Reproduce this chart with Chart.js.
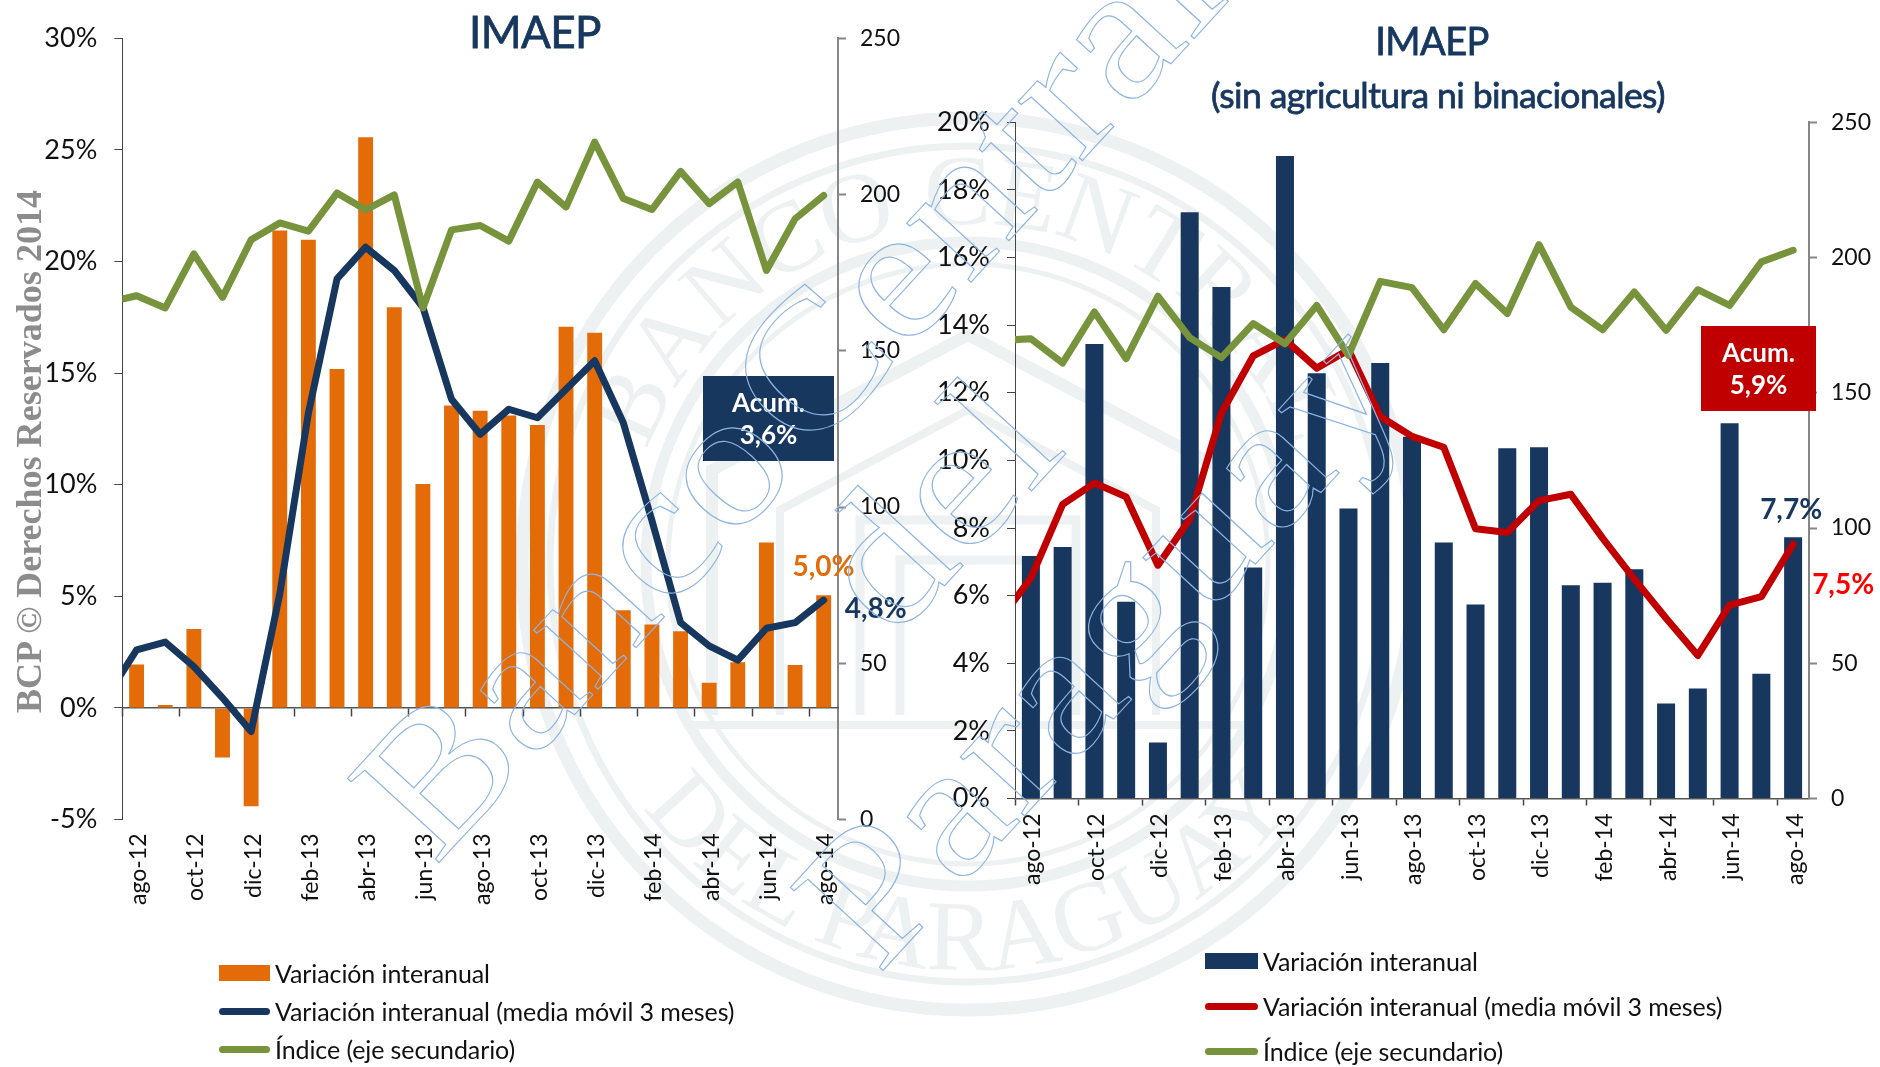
<!DOCTYPE html>
<html lang="es">
<head>
<meta charset="utf-8">
<title>IMAEP</title>
<script src="https://cdn.jsdelivr.net/npm/chart.js@4"></script>
<style>
html,body{margin:0;padding:0;background:#fff;width:1880px;height:1067px;overflow:hidden}
body{position:relative;font-family:Lato,sans-serif}
canvas{position:absolute;top:0}
svg{position:absolute;left:0;top:0}
.t{position:absolute;transform:translate(-50%,-50%);white-space:nowrap;color:#17375E;letter-spacing:-.6px;-webkit-text-stroke:.8px #17375E}
.lg{position:absolute;white-space:nowrap;transform:translateY(-50%);font-size:25px;color:#111;letter-spacing:-.1px}
.sw{position:absolute}
</style>
</head>
<body>
<svg width="1880" height="1067" style="z-index:0">
  <defs>
    <path id="arcTop" d="M 628 564 A 340 340 0 0 1 1308 564"/>
    <path id="arcBot" d="M 562 564 A 406 406 0 0 0 1374 564"/>
  </defs>
  <g fill="none" stroke="#EDF1F2">
    <circle cx="968" cy="564" r="446" stroke-width="13"/>
    <circle cx="968" cy="564" r="418" stroke-width="7"/>
    <circle cx="968" cy="564" r="322" stroke-width="11"/>
    <circle cx="968" cy="564" r="300" stroke-width="5"/>
    <path stroke-width="12" d="M 712 715 L 712 470 L 968 335 L 1224 470 L 1224 715"/>
    <path stroke-width="8" d="M 690 725 L 1246 725 M 780 715 L 780 510 L 968 410 L 1156 510 L 1156 715"/>
    <path stroke-width="9" d="M 860 715 L 860 520 L 1076 520 L 1076 715 M 900 715 L 900 560 L 1036 560 L 1036 715"/>
  </g>
  <g fill="#EDF1F2" font-family="Liberation Serif" font-size="100">
    <text><textPath href="#arcTop" startOffset="50%" text-anchor="middle">BANCO CENTRAL</textPath></text>
    <text><textPath href="#arcBot" startOffset="50%" text-anchor="middle">DEL PARAGUAY</textPath></text>
  </g>
</svg>

<canvas id="cLeft" width="925" height="1067" style="left:0;z-index:1"></canvas>
<canvas id="cRight" width="955" height="1067" style="left:925px;z-index:1"></canvas>

<div class="t" style="left:535px;top:31px;font-size:44px;z-index:2">IMAEP</div>
<div class="t" style="left:1432px;top:40px;font-size:38px;z-index:2">IMAEP</div>
<div class="t" style="left:1438px;top:94px;font-size:35.5px;z-index:2">(sin agricultura ni binacionales)</div>

<div id="legends" style="z-index:2"></div>

<svg width="1880" height="1067" style="z-index:3;pointer-events:none">
  <text x="0" y="0" transform="translate(41,713) rotate(-90)" font-family="Liberation Serif" font-weight="700" font-size="36" fill="#8c8c8c" textLength="523" lengthAdjust="spacingAndGlyphs">BCP © Derechos Reservados 2014</text>
  <g fill="none" stroke="#8DB4E2" stroke-width="1.1" font-family="Liberation Serif" font-size="190">
    <text x="0" y="0" transform="translate(435,867) rotate(-47.5) scale(1.12,1)" word-spacing="-40">Banco Central</text>
    <text x="0" y="0" transform="translate(893,642) rotate(-47.5) scale(1.12,1)">del</text>
    <text x="0" y="0" transform="translate(878,976) rotate(-47.5) scale(1.12,1)">Paraguay</text>
  </g>
</svg>

<script>
const FONT = 'Lato, sans-serif';
const NAVY = '#17375E', ORANGE = '#E36C09', GREEN = '#77933C', RED = '#C00000';

// Month labels; the first one lies just outside the axis range (its line segment is cut off at the axis).
const months = ['jul-12','ago-12','sep-12','oct-12','nov-12','dic-12','ene-13','feb-13','mar-13','abr-13','may-13','jun-13','jul-13','ago-13','sep-13','oct-13','nov-13','dic-13','ene-14','feb-14','mar-14','abr-14','may-14','jun-14','jul-14','ago-14'];

const leftBars = [null,1.94,0.13,3.54,-2.22,-4.41,21.39,20.97,15.18,25.57,17.95,10.03,13.55,13.31,13.1,12.68,17.08,16.81,4.38,3.74,3.43,1.13,2.05,7.41,1.92,5.05];
const leftAvg = [0.6,2.6,2.95,1.85,0.45,-1.06,5.1,13.2,19.22,20.64,19.6,17.95,13.83,12.26,13.38,13.0,14.28,15.55,12.78,8.4,3.82,2.78,2.14,3.57,3.82,4.83];
const leftIndex = [165.5,167.6,163.7,181.0,167.1,185.5,190.9,188.3,200.5,195.1,199.9,163.7,188.7,190.1,185.1,204.0,196.0,216.8,198.7,195.2,207.4,197.1,204.0,175.7,192.2,199.7];

const rightBars = [null,7.17,7.44,13.44,5.82,1.66,17.34,15.13,6.83,19.0,12.58,8.58,12.88,10.7,7.57,5.74,10.36,10.39,6.31,6.38,6.78,2.81,3.25,11.1,3.69,7.73];
const rightAvg = [5.26,6.52,8.7,9.33,8.92,6.9,8.26,11.4,13.09,13.57,12.73,13.27,11.3,10.71,10.39,7.98,7.87,8.81,9.0,7.7,6.49,5.33,4.23,5.72,5.97,7.52];
const rightIndex = [169.3,170,161,179.9,162.6,185.7,170.4,163,175.6,168.1,182.3,163.8,191.2,188.9,173.3,190.4,179.3,204.8,181.7,173.3,187.3,173.1,188.1,182.3,198.4,202.7];

const seriesNames = ['Variación interanual','Variación interanual (media móvil 3 meses)','Índice (eje secundario)'];

// Notes drawn on the canvas: the end-of-series values and the "Acum." boxes.
const notesPlugin = {
  id: 'notes',
  afterDraw(chart, args, o) {
    const c = chart.ctx;
    c.save();
    c.textAlign = 'center';
    c.textBaseline = 'middle';
    const xs = chart.scales.x, y = chart.scales.y;
    const lastX = xs.getPixelForValue(months.length - 1);
    for (const l of o.values) {
      c.font = '700 28px ' + FONT;
      c.fillStyle = l.color;
      c.fillText(l.text, lastX + l.dx, y.getPixelForValue(l.value) + l.dy);
    }
    const b = o.box;
    c.fillStyle = b.color;
    c.fillRect(b.x, b.y, b.w, b.h);
    c.fillStyle = '#fff';
    c.font = '700 26px ' + FONT;
    c.fillText('Acum.', b.x + b.w / 2, b.y + b.h * 0.32);
    c.fillText(b.text, b.x + b.w / 2, b.y + b.h * 0.7);
    c.restore();
  }
};

function makeChart(id, cfg) {
  const first = months[1], last = months[months.length - 1];
  const tickColorEven = col => ctx => (ctx.index % 2 === 0 ? col : 'rgba(0,0,0,0)');
  const scales = {
    x: {
      type: 'category', labels: months, min: first, max: last, offset: true,
      afterFit: s => { s.height = cfg.xHeight; },
      grid: {
        offset: true, drawOnChartArea: false,
        drawTicks: !cfg.zeroAxis, tickLength: 7, tickWidth: 1.5,
        tickColor: tickColorEven('#444')
      },
      border: cfg.zeroAxis ? { display: false } : { display: true, color: '#555', width: 1.5 },
      ticks: {
        autoSkip: false, minRotation: 90, maxRotation: 90,
        padding: cfg.zeroAxis ? 14 : 8, labelOffset: 2,
        color: '#111', font: { family: FONT, size: 23 },
        callback: function (v, i) { return i % 2 === 0 ? this.getLabelForValue(v) : ''; }
      }
    },
    y: {
      type: 'linear', position: 'left', min: cfg.yMin, max: cfg.yMax,
      afterFit: s => { s.width = cfg.left; },
      grid: { drawOnChartArea: false, tickLength: 8, tickColor: '#444' },
      border: { color: '#444', width: 1 },
      ticks: { stepSize: cfg.yStep, padding: 17, color: '#111', font: { family: FONT, size: 27 }, callback: v => v + '%' }
    },
    y1: {
      type: 'linear', position: 'right', min: 0, max: 250,
      afterFit: s => { s.width = cfg.canvasW - cfg.right; },
      grid: { drawOnChartArea: false, tickLength: 8, tickColor: '#868686', tickWidth: 2 },
      border: { color: '#868686', width: 2 },
      ticks: { stepSize: 50, padding: 14, color: '#111', font: { family: FONT, size: 23 } }
    }
  };
  if (cfg.zeroAxis) {
    scales.x2 = {
      type: 'category', axis: 'x', labels: months, min: first, max: last, offset: true,
      position: { y: 0 },
      grid: { offset: true, drawOnChartArea: false, tickLength: 8, tickWidth: 1.5, tickColor: tickColorEven('#444') },
      border: { color: '#555', width: 1.5 },
      ticks: { display: false, autoSkip: false }
    };
  }
  return new Chart(document.getElementById(id), {
    type: 'bar',
    data: {
      labels: months,
      datasets: [
        { type: 'bar', label: seriesNames[0], data: cfg.bars, backgroundColor: cfg.barColor, barPercentage: cfg.barPct, categoryPercentage: 1, xAxisID: 'x', yAxisID: 'y', order: 3 },
        { type: 'line', label: seriesNames[1], data: cfg.avg, borderColor: cfg.avgColor, borderWidth: 7, pointRadius: 0, tension: 0, borderCapStyle: 'round', borderJoinStyle: 'round', clip: 0, xAxisID: 'x', yAxisID: 'y', order: 2 },
        { type: 'line', label: seriesNames[2], data: cfg.index, borderColor: GREEN, borderWidth: 7, pointRadius: 0, tension: 0, borderCapStyle: 'round', borderJoinStyle: 'round', clip: 0, xAxisID: 'x', yAxisID: 'y1', order: 1 }
      ]
    },
    options: {
      responsive: false, animation: false,
      layout: { autoPadding: false, padding: { top: cfg.top, left: 0, right: 0, bottom: 0 } },
      plugins: { legend: { display: false }, title: { display: false }, tooltip: { enabled: false }, notes: cfg.notes },
      scales
    },
    plugins: [notesPlugin]
  });
}

makeChart('cLeft', {
  canvasW: 925, left: 122.3, right: 838, top: 38.3, xHeight: 1067 - 819.5,
  zeroAxis: true, yMin: -5, yMax: 30, yStep: 5,
  bars: leftBars, avg: leftAvg, index: leftIndex,
  barColor: ORANGE, avgColor: NAVY, barPct: 0.52,
  notes: {
    values: [
      { text: '5,0%', color: ORANGE, value: 5.05, dx: -0.3, dy: -28 },
      { text: '4,8%', color: NAVY, value: 4.83, dx: 52, dy: 9 }
    ],
    box: { x: 703, y: 376, w: 131, h: 85, color: NAVY, text: '3,6%' }
  }
});

makeChart('cRight', {
  canvasW: 955, left: 90, right: 884, top: 122.3, xHeight: 1067 - 798.5,
  zeroAxis: false, yMin: 0, yMax: 20, yStep: 2,
  bars: rightBars, avg: rightAvg, index: rightIndex,
  barColor: NAVY, avgColor: RED, barPct: 0.567,
  notes: {
    values: [
      { text: '7,7%', color: NAVY, value: 7.73, dx: -2, dy: -27 },
      { text: '7,5%', color: '#FF0000', value: 7.52, dx: 50, dy: 41 }
    ],
    box: { x: 776, y: 326, w: 115, h: 85, color: RED, text: '5,9%' }
  }
});

// Legends
const legendSets = [
  { swatch: ORANGE, line: NAVY, sx: 219, ex: 270, tx: 275, ys: [972.5, 1011, 1049] },
  { swatch: NAVY, line: RED, sx: 1205, ex: 1258, tx: 1263, ys: [961, 1006, 1051] }
];
const host = document.getElementById('legends');
for (const s of legendSets) {
  seriesNames.forEach((name, i) => {
    const sw = document.createElement('div');
    sw.className = 'sw';
    const h = i === 0 ? 16 : 7;
    sw.style.cssText = `left:${s.sx}px;top:${s.ys[i] - h / 2}px;width:${s.ex - s.sx}px;height:${h}px;z-index:2;` +
      `background:${[s.swatch, s.line, GREEN][i]};border-radius:${i === 0 ? 0 : 4}px`;
    host.appendChild(sw);
    const t = document.createElement('div');
    t.className = 'lg';
    t.style.cssText = `left:${s.tx}px;top:${s.ys[i]}px;z-index:2`;
    t.textContent = name;
    host.appendChild(t);
  });
}
</script>
</body>
</html>
